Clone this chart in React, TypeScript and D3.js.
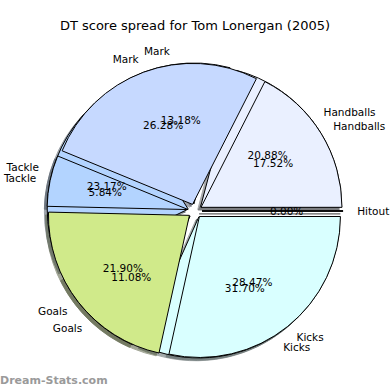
import * as React from "react"
import * as d3 from "d3"

const title = "DT score spread for Tom Lonergan (2005)"
const categories = ["Hitout", "Handballs", "Mark", "Tackle", "Goals", "Kicks"]
// back pie (drawn first)
const seriesBack = [0, 20.88, 13.18, 23.17, 11.08, 31.7]
// front pie (drawn on top)
const seriesFront = [0, 17.52, 26.28, 5.84, 21.9, 28.47]
const colors = ["#f4f7ff", "#eaf0ff", "#c6d9ff", "#b3d4ff", "#d0ea8a", "#d9ffff"]

export default function App(): React.JSX.Element {
  const svgRef = React.useRef<SVGSVGElement>(null)

  React.useEffect(() => {
    const width = 390
    const height = 390
    const cx = 195
    const cy = 211
    const R = 141
    const explode = 0.05
    const shadowOff = 0.02 * R

    const svg = d3.select(svgRef.current).attr("width", width).attr("height", height)
    svg.selectAll("*").remove()

    const font = "DejaVu Sans, sans-serif"

    // matplotlib style: start at 3 o'clock, counterclockwise
    const pie = d3
      .pie<number>()
      .sort(null)
      .value((d) => d)
      .startAngle(Math.PI / 2)
      .endAngle(Math.PI / 2 - 2 * Math.PI)

    const arc = d3.arc<d3.PieArcDatum<number>>().innerRadius(0).outerRadius(R)

    const pies = [pie(seriesBack), pie(seriesFront)]
    const mid = (d: d3.PieArcDatum<number>) => (d.startAngle + d.endAngle) / 2
    const offset = (d: d3.PieArcDatum<number>, k: number) => {
      const a = mid(d)
      return [k * R * Math.sin(a), -k * R * Math.cos(a)]
    }

    // shadows below everything
    const shadows = svg.append("g")
    pies.forEach((arcs) => {
      shadows
        .selectAll(null)
        .data(arcs)
        .join("path")
        .attr("d", (d) => arc(d))
        .attr("transform", (d) => {
          const [dx, dy] = offset(d, explode)
          return `translate(${cx + dx - shadowOff},${cy + dy + shadowOff})`
        })
        .attr("fill", (d, i) => d3.color(colors[i])!.darker(3).formatHex())
        .attr("stroke", (d, i) => d3.color(colors[i])!.darker(3).formatHex())
        .attr("stroke-width", 1)
        .attr("opacity", 0.5)
    })

    // wedges
    pies.forEach((arcs) => {
      svg
        .append("g")
        .selectAll("path")
        .data(arcs)
        .join("path")
        .attr("d", (d) => arc(d))
        .attr("transform", (d) => {
          const [dx, dy] = offset(d, explode)
          return `translate(${cx + dx},${cy + dy})`
        })
        .attr("fill", (d, i) => colors[i])
        .attr("stroke", "#000")
        .attr("stroke-width", 1)
        .attr("stroke-linejoin", "round")
    })

    // labels and percentages (texts landing exactly on top of each other are drawn once)
    const seen = new Set<string>()
    pies
      .slice()
      .reverse()
      .forEach((arcs) => {
        const total = d3.sum(arcs, (d) => d.data)
        const g = svg.append("g").attr("font-family", font).attr("font-size", 10.5).attr("fill", "#000")
        const texts: { x: number; y: number; t: string; anchor: string }[] = []
        arcs.forEach((d, i) => {
          const [lx, ly] = offset(d, explode + 1.1)
          const [px, py] = offset(d, explode + 0.6)
          texts.push({ x: cx + lx, y: cy + ly, t: categories[i], anchor: Math.sin(mid(d)) > 0 ? "start" : "end" })
          texts.push({ x: cx + px, y: cy + py, t: `${((d.data / total) * 100).toFixed(2)}%`, anchor: "middle" })
        })
        const unique = texts.filter((t) => {
          const key = `${t.t}|${t.x.toFixed(1)}|${t.y.toFixed(1)}`
          if (seen.has(key)) return false
          seen.add(key)
          return true
        })
        g.selectAll("text")
          .data(unique)
          .join("text")
          .attr("x", (d) => d.x)
          .attr("y", (d) => d.y)
          .attr("text-anchor", (d) => d.anchor)
          .attr("dominant-baseline", "central")
          .text((d) => d.t)
      })

    svg
      .append("text")
      .attr("x", width / 2)
      .attr("y", 30)
      .attr("text-anchor", "middle")
      .attr("font-family", font)
      .attr("font-size", 13)
      .attr("fill", "#000")
      .text(title)

    svg
      .append("text")
      .attr("x", 0)
      .attr("y", 384)
      .attr("font-family", font)
      .attr("font-size", 11)
      .attr("font-weight", "bold")
      .attr("fill", "#9a9a9a")
      .text("Dream-Stats.com")
  }, [])

  return (
    <div style={{ position: "absolute", left: 0, top: 0, width: 390, height: 390, background: "#fff" }}>
      <svg ref={svgRef} style={{ display: "block" }}></svg>
    </div>
  )
}
